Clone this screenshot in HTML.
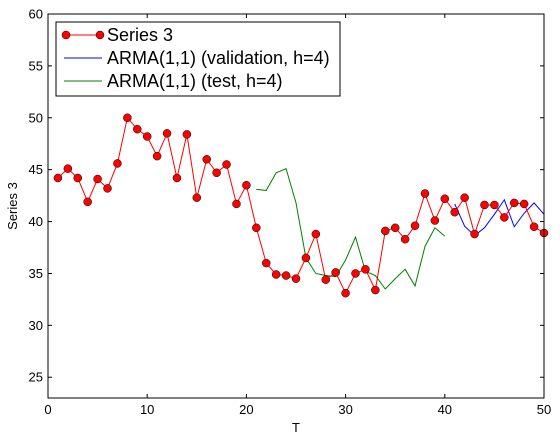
<!DOCTYPE html>
<html><head><meta charset="utf-8"><style>
body{margin:0;background:#fff;}
svg{display:block;font-family:"Liberation Sans",sans-serif;}
</style></head><body>
<svg id="c" width="560" height="442" xmlns="http://www.w3.org/2000/svg"></svg>
<script>
const xTicks=[0,10,20,30,40,50];
const yTicks=[25,30,35,40,45,50,55,60];
const series3T=[1,2,3,4,5,6,7,8,9,10,11,12,13,14,15,16,17,18,19,20,21,22,23,24,25,26,27,28,29,30,31,32,33,34,35,36,37,38,39,40,41,42,43,44,45,46,47,48,49,50];
const series3V=[44.2,45.1,44.2,41.9,44.1,43.2,45.6,50.0,48.9,48.2,46.3,48.5,44.2,48.4,42.3,46.0,44.7,45.5,41.7,43.5,39.4,36.0,34.9,34.8,34.5,36.5,38.8,34.4,35.1,33.1,35.0,35.4,33.4,39.1,39.4,38.3,39.6,42.7,40.1,42.2,40.9,42.3,38.8,41.6,41.6,40.4,41.8,41.7,39.5,38.9];
const valT=[41,42,43,44,45,46,47,48,49,50];
const valV=[41.7,39.55,38.65,39.4,40.7,42.1,39.5,40.8,41.8,40.7];
const testT=[21,22,23,24,25,26,27,28,29,30,31,32,33,34,35,36,37,38,39,40];
const testV=[43.1,43.0,44.7,45.1,41.8,36.5,35.0,34.8,34.7,36.3,38.5,35.2,34.8,33.5,34.5,35.4,33.8,37.6,39.4,38.6];
const L=48,R=544,T=14,B=398,x0=0,x1=50,y0=23,y1=60;
const X=v=>L+(v-x0)/(x1-x0)*(R-L), Y=v=>B-(v-y0)/(y1-y0)*(B-T);
const s=document.getElementById('c'),NS='http://www.w3.org/2000/svg';
function el(t,a,p){const e=document.createElementNS(NS,t);for(const k in a)e.setAttribute(k,a[k]);(p||s).appendChild(e);return e;}
function line(ts,vs,col,name){const e=el('polyline',{points:ts.map((t,i)=>X(t)+','+Y(vs[i])).join(' '),fill:'none',stroke:col,'stroke-width':1});

}
line(testT,testV,'#008000','test-forecast-line');
line(valT,valV,'#0000ff','validation-forecast-line');
line(series3T,series3V,'#ff0000','series3-line');
series3T.forEach((t,i)=>{const c=el('circle',{cx:X(t),cy:Y(series3V[i]),r:4,fill:'#ff0000',stroke:'#000','stroke-width':0.5});

});
const fr=el('rect',{x:L,y:T,width:R-L,height:B-T,fill:'none',stroke:'#000','stroke-width':1});


xTicks.forEach(v=>{el('line',{x1:X(v),x2:X(v),y1:B,y2:B-4,stroke:'#000'});el('line',{x1:X(v),x2:X(v),y1:T,y2:T+4,stroke:'#000'});
const t=el('text',{x:X(v),y:B+16,'text-anchor':'middle','font-size':13});t.textContent=v;

});
yTicks.forEach(v=>{el('line',{x1:L,x2:L+4,y1:Y(v),y2:Y(v),stroke:'#000'});el('line',{x1:R,x2:R-4,y1:Y(v),y2:Y(v),stroke:'#000'});
const t=el('text',{x:L-5,y:Y(v)+4.5,'text-anchor':'end','font-size':13});t.textContent=v;

});
const xt=el('text',{x:(L+R)/2,y:432,'text-anchor':'middle','font-size':13});xt.textContent='T';


const yt=el('text',{x:17,y:(T+B)/2,'text-anchor':'middle','font-size':13,transform:'rotate(-90 17 '+((T+B)/2)+')'});yt.textContent='Series 3';


const lg=el('g',{});


el('rect',{x:56,y:22,width:284,height:74,fill:'#fff',stroke:'#000','stroke-width':1},lg);
const items=[['Series 3','#ff0000',true],['ARMA(1,1) (validation, h=4)','#0000ff',false],['ARMA(1,1) (test, h=4)','#008000',false]];
items.forEach((it,i)=>{const y=35+i*23;
el('line',{x1:64,x2:102,y1:y,y2:y,stroke:it[1]},lg);
if(it[2]){el('circle',{cx:66,cy:y,r:4,fill:'#f00',stroke:'#000','stroke-width':0.5},lg);el('circle',{cx:100,cy:y,r:4,fill:'#f00',stroke:'#000','stroke-width':0.5},lg);}
const t=el('text',{x:107,y:y+6,'font-size':18},lg);t.textContent=it[0];

});
</script>
</body></html>
